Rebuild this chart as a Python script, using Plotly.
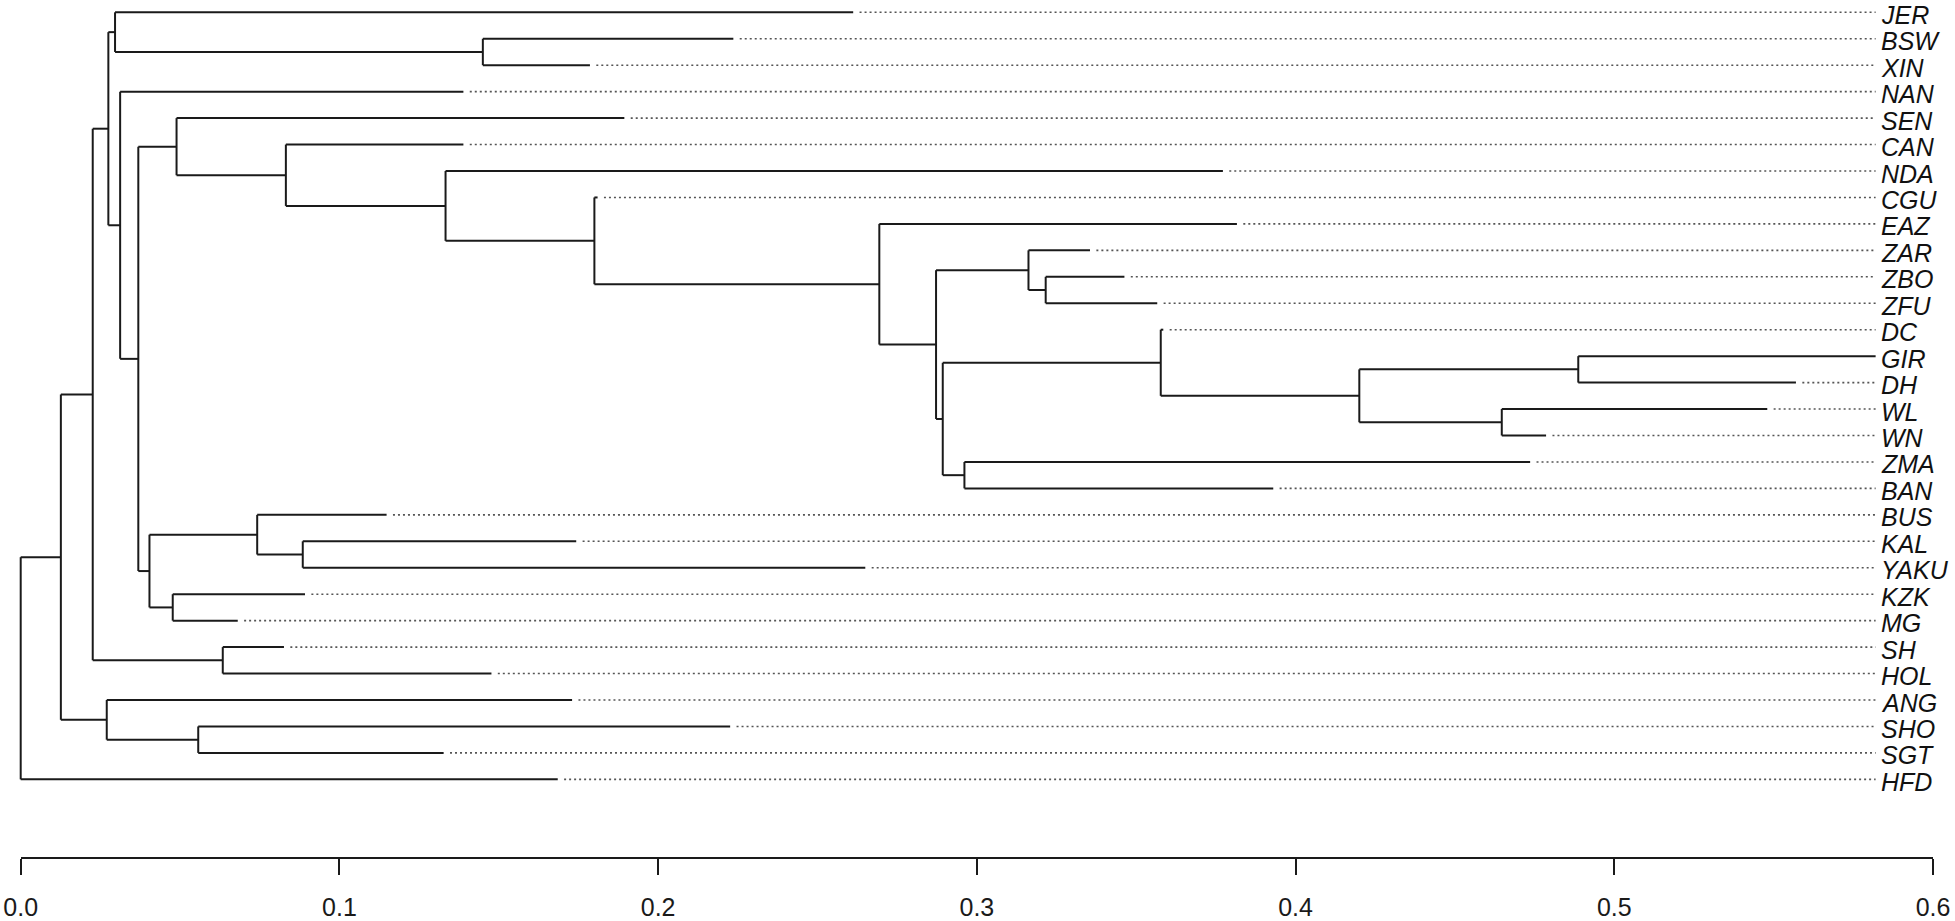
import plotly.graph_objects as go

# tips, top to bottom, and where each terminal branch ends
tip_names = ['JER', 'BSW', 'XIN', 'NAN', 'SEN', 'CAN', 'NDA', 'CGU', 'EAZ', 'ZAR',
             'ZBO', 'ZFU', 'DC', 'GIR', 'DH', 'WL', 'WN', 'ZMA', 'BAN', 'BUS',
             'KAL', 'YAKU', 'KZK', 'MG', 'SH', 'HOL', 'ANG', 'SHO', 'SGT', 'HFD']
tip_x = [0.2612, 0.2236, 0.1786, 0.1389, 0.1894, 0.1389, 0.3772, 0.181, 0.3816, 0.3355,
         0.3463, 0.3566, 0.3585, 0.582, 0.557, 0.548, 0.4786, 0.4736, 0.393, 0.1148,
         0.1743, 0.265, 0.0892, 0.0681, 0.0826, 0.1477, 0.173, 0.2226, 0.1327, 0.1685]

# internal nodes: depth and children
node_names = ['root', 'n1', 'n2', 'n3', 'njer', 'nbsw', 'nnan', 'n4', 'nsen', 'ncan',
              'nnda', 'ncgu', 'neaz', 'np', 'nq', 'nr', 'ns', 'nt', 'nu', 'nv',
              'nw', 'nx', 'nbg', 'nbus', 'nkal', 'nkzk', 'nsh', 'nang', 'nsho']
node_x = [0.0, 0.0126, 0.0226, 0.0275, 0.0296, 0.145, 0.0312, 0.0369, 0.0489, 0.0832,
          0.1333, 0.18, 0.2694, 0.2872, 0.3162, 0.3216, 0.2893, 0.3577, 0.42, 0.4887,
          0.4647, 0.2961, 0.0404, 0.0742, 0.0885, 0.0477, 0.0634, 0.027, 0.0557]
node_children = [['n1', 'HFD'], ['n2', 'nang'], ['n3', 'nsh'], ['njer', 'nnan'],
                 ['JER', 'nbsw'], ['BSW', 'XIN'], ['NAN', 'n4'], ['nsen', 'nbg'],
                 ['SEN', 'ncan'], ['CAN', 'nnda'], ['NDA', 'ncgu'], ['CGU', 'neaz'],
                 ['EAZ', 'np'], ['nq', 'ns'], ['ZAR', 'nr'], ['ZBO', 'ZFU'],
                 ['nt', 'nx'], ['DC', 'nu'], ['nv', 'nw'], ['GIR', 'DH'], ['WL', 'WN'],
                 ['ZMA', 'BAN'], ['nbus', 'nkzk'], ['BUS', 'nkal'], ['KAL', 'YAKU'],
                 ['KZK', 'MG'], ['SH', 'HOL'], ['ANG', 'nsho'], ['SHO', 'SGT']]

label_x = 0.582
scale_ticks = [0.0, 0.1, 0.2, 0.3, 0.4, 0.5, 0.6]

row = {n: i for i, n in enumerate(tip_names)}
tip_end = dict(zip(tip_names, tip_x))
depth = dict(zip(node_names, node_x))
kids = dict(zip(node_names, node_children))


def ypos(n):
    if n in row:
        return row[n]
    c = kids[n]
    return (ypos(c[0]) + ypos(c[-1])) / 2


def xpos(n):
    return tip_end[n] if n in tip_end else depth[n]


# solid tree: one vertical per node, one horizontal per edge
sx, sy = [], []
for n in node_names:
    c = kids[n]
    sx += [depth[n], depth[n], None]
    sy += [ypos(c[0]), ypos(c[-1]), None]
    for ch in c:
        sx += [depth[n], xpos(ch), None]
        sy += [ypos(ch), ypos(ch), None]

# dotted guides from tip to label
dx, dy = [], []
for n in tip_names:
    if tip_end[n] < label_x - 0.002:
        dx += [tip_end[n] + 0.002, label_x, None]
        dy += [row[n], row[n], None]

fig = go.Figure()
fig.add_trace(go.Scatter(x=dx, y=dy, mode='lines', hoverinfo='skip',
                         line=dict(color='#555555', width=1.6, dash='2px,3px')))
fig.add_trace(go.Scatter(x=sx, y=sy, mode='lines', hoverinfo='skip',
                         line=dict(color='#1a1a1a', width=2)))
# carrier for the scale axis
fig.add_trace(go.Scatter(x=[scale_ticks[0], scale_ticks[-1]], y=[None, None],
                         xaxis='x2', yaxis='y', mode='lines', hoverinfo='skip'))

for n in tip_names:
    fig.add_annotation(x=label_x, y=row[n], text='<i>%s</i>' % n, showarrow=False,
                       xanchor='left', yanchor='middle', xshift=3, yshift=-2.5,
                       font=dict(family='Liberation Sans', size=25, color='#111111'))

W, H = 1955, 921
x0_px, x6_px = 20.7, 1933.0
px_per_unit = (x6_px - x0_px) / 0.6
top_px, step_px = 12.3, 26.45
fig.update_layout(
    width=W, height=H, margin=dict(l=0, r=0, t=0, b=0),
    plot_bgcolor='rgba(0,0,0,0)', paper_bgcolor='white', showlegend=False,
    xaxis=dict(domain=[0, 1], range=[-x0_px / px_per_unit, (W - x0_px) / px_per_unit],
               visible=False, showgrid=False, zeroline=False, automargin=False),
    xaxis2=dict(domain=[x0_px / W, x6_px / W], range=[0, 0.6], anchor='free',
                position=1 - 858 / H, automargin=False,
                showline=True, linecolor='#1a1a1a', linewidth=2,
                ticks='outside', ticklen=16, tickwidth=2, tickcolor='#1a1a1a',
                tickvals=scale_ticks, tickformat='.1f', showgrid=False, zeroline=False,
                ticklabelstandoff=11,
                tickfont=dict(family='Liberation Sans', size=25, color='#1a1a1a')),
    yaxis=dict(domain=[0, 1], range=[(H - top_px) / step_px, -top_px / step_px],
               visible=False, showgrid=False, zeroline=False, automargin=False),
)

fig.write_html("out.html", config={'displayModeBar': False},
               post_script="document.body.style.margin='0';")
